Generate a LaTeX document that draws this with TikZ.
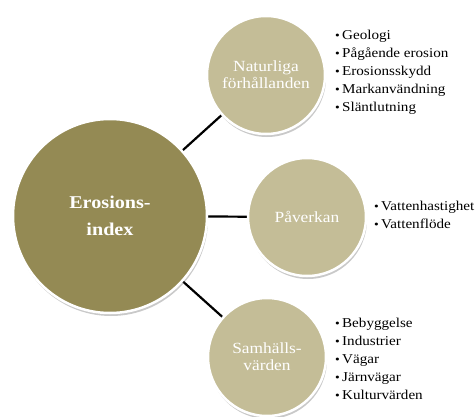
\documentclass[tikz,border=0pt]{standalone}
\usepackage{fontspec}
\setmainfont[FakeStretch=1.12]{Liberation Serif}
\usetikzlibrary{shadows}
\definecolor{bigc}{HTML}{948A54}
\definecolor{smallc}{HTML}{C4BD97}
\tikzset{
  circ/.style={circle, draw=white, line width=2.5pt, inner sep=0pt, text=white, align=center,
    drop shadow={shadow xshift=1pt, shadow yshift=-3pt, opacity=0.3, fill=black!70}},
  bigcirc/.style={circ, fill=bigc, minimum size=194pt, font=\fontsize{18}{27}\selectfont\bfseries},
  smallcirc/.style={circ, fill=smallc, minimum size=118pt, font=\fontsize{15.5}{17}\selectfont},
  conn/.style={line width=2.2pt, black},
  blist/.style={anchor=north west, align=left, inner sep=0pt, font=\fontsize{13.5}{18}\selectfont}
}
\newcommand{\bul}{{\fontsize{12}{12}\selectfont\raisebox{0.5pt}{•}}\,}
\begin{document}
\begin{tikzpicture}[x=1pt,y=-1pt]
\useasboundingbox (0,0) rectangle (476,417);
\coordinate (cB) at (110,216);
\coordinate (cT) at (266,75);
\coordinate (cM) at (307,217);
\coordinate (cL) at (267,357);
\draw[conn] (cB) -- (cT);
\draw[conn] (cB) -- (cM);
\draw[conn] (cB) -- (cL);
\node[bigcirc] (big) at (cB) {Erosions-\\index};
\node[smallcirc] (top) at (cT) {Naturliga\\förhållanden};
\node[smallcirc] (mid) at (cM) {Påverkan};
\node[smallcirc] (bot) at (cL) {Samhälls-\\värden};
\node[blist] (l1) at (335,30) {\bul Geologi\\\bul Pågående erosion\\\bul Erosionsskydd\\\bul Markanvändning\\\bul Släntlutning};
\node[blist] (l2) at (374,201) {\bul Vattenhastighet\\\bul Vattenflöde};
\node[blist] (l3) at (335,318) {\bul Bebyggelse\\\bul Industrier\\\bul Vägar\\\bul Järnvägar\\\bul Kulturvärden};
\end{tikzpicture}
\end{document}
